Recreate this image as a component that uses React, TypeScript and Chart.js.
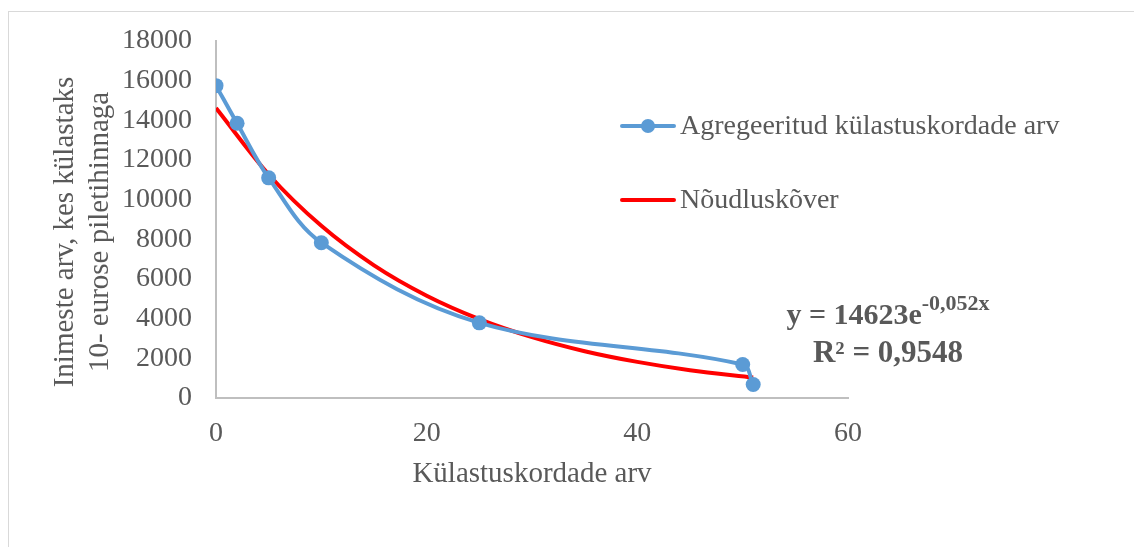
import React, { useEffect, useRef } from "react";
import { Chart, registerables } from "chart.js";

Chart.register(...registerables);

const seriesName = "Agregeeritud külastuskordade arv";
const trendName = "Nõudluskõver";
const visitsX = [0, 2, 5, 10, 25, 50, 51];
const visitsY = [15750, 13850, 11100, 7830, 3790, 1690, 680];
const trendX = [0, 5, 10, 15, 20, 25, 30, 35, 40, 45, 51];
const trendY = [14620, 11270, 8680, 6690, 5160, 3980, 3070, 2360, 1820, 1400, 1030];
const yTitle = ["Inimeste arv, kes külastaks", "10- eurose piletihinnaga"];
const xTitle = "Külastuskordade arv";
const eqMain = "y = 14623e";
const eqSup = "-0,052x";
const r2Text = "R² = 0,9548";

const FONT = "'Liberation Serif', 'Times New Roman', serif";
const TEXT = "#595959";
const BLUE = "#5B9BD5";
const RED = "#FF0000";

const overlayPlugin = {
  id: "overlay",
  afterDraw(chart: any) {
    const ctx = chart.ctx;
    ctx.save();
    // y axis title
    ctx.save();
    ctx.translate(56, 220);
    ctx.rotate(-Math.PI / 2);
    ctx.font = `29px ${FONT}`;
    ctx.fillStyle = TEXT;
    ctx.textAlign = "center";
    ctx.textBaseline = "middle";
    ctx.fillText(yTitle[0], 0, 0);
    ctx.fillText(yTitle[1], 0, 35);
    ctx.restore();
    // legend
    const lx = 613, tx = 671;
    const rows = [
      { y: 114, color: BLUE, marker: true, label: seriesName },
      { y: 188, color: RED, marker: false, label: trendName },
    ];
    ctx.font = `28px ${FONT}`;
    ctx.textBaseline = "middle";
    ctx.textAlign = "left";
    rows.forEach((r) => {
      ctx.strokeStyle = r.color;
      ctx.lineWidth = 4;
      ctx.lineCap = "round";
      ctx.beginPath();
      ctx.moveTo(lx, r.y);
      ctx.lineTo(lx + 52, r.y);
      ctx.stroke();
      if (r.marker) {
        ctx.fillStyle = r.color;
        ctx.beginPath();
        ctx.arc(lx + 26, r.y, 7, 0, Math.PI * 2);
        ctx.fill();
      }
      ctx.fillStyle = TEXT;
      ctx.fillText(r.label, tx, r.y + 1);
    });
    // equation
    const cx = 879;
    ctx.fillStyle = TEXT;
    ctx.font = `bold 30px ${FONT}`;
    const w1 = ctx.measureText(eqMain).width;
    ctx.font = `bold 22px ${FONT}`;
    const w2 = ctx.measureText(eqSup).width;
    const start = cx - (w1 + w2) / 2;
    ctx.textBaseline = "alphabetic";
    ctx.font = `bold 30px ${FONT}`;
    ctx.fillText(eqMain, start, 312);
    ctx.font = `bold 22px ${FONT}`;
    ctx.fillText(eqSup, start + w1, 298);
    ctx.font = `bold 31px ${FONT}`;
    ctx.textAlign = "center";
    ctx.fillText(r2Text, cx, 350);
    ctx.restore();
  },
};

const noPad = (s: any) => {
  s.paddingTop = 0;
  s.paddingBottom = 0;
  s.paddingLeft = 0;
  s.paddingRight = 0;
};

export default function App() {
  const ref = useRef<HTMLCanvasElement | null>(null);
  useEffect(() => {
    if (!ref.current) return;
    const chart = new Chart(ref.current, {
      type: "line",
      data: {
        datasets: [
          {
            label: seriesName,
            data: visitsX.map((x, i) => ({ x, y: visitsY[i] })),
            borderColor: BLUE,
            backgroundColor: BLUE,
            borderWidth: 4,
            pointRadius: 7.5,
            pointHoverRadius: 7.5,
            pointBackgroundColor: BLUE,
            pointBorderWidth: 0,
            tension: 0.35,
            fill: false,
          },
          {
            label: trendName,
            data: trendX.map((x, i) => ({ x, y: trendY[i] })),
            borderColor: RED,
            backgroundColor: RED,
            borderWidth: 4,
            pointRadius: 0,
            cubicInterpolationMode: "monotone",
            fill: false,
          },
        ],
      },
      options: {
        animation: false,
        responsive: false,
        maintainAspectRatio: false,
        layout: { padding: { left: 0, top: 29, right: 286, bottom: 0 } },
        plugins: { legend: { display: false }, tooltip: { enabled: false } },
        scales: {
          x: {
            type: "linear",
            min: 0,
            max: 60,
            afterFit: (s: any) => { s.height = 535 - 386; noPad(s); },
            ticks: {
              stepSize: 20,
              color: TEXT,
              font: { family: FONT, size: 28 },
              padding: 19,
              callback: (v: any) => String(v),
            },
            grid: { display: false, drawTicks: false },
            border: { display: true, color: "#BFBFBF", width: 2 },
            title: {
              display: true,
              text: xTitle,
              color: TEXT,
              font: { family: FONT, size: 29 },
              padding: { top: 0, bottom: 55 },
            },
          },
          y: {
            min: 0,
            max: 18000,
            afterFit: (s: any) => { s.width = 207; noPad(s); },
            ticks: {
              stepSize: 2000,
              color: TEXT,
              font: { family: FONT, size: 28 },
              padding: 24,
              callback: (v: any) => String(v),
            },
            grid: { display: false, drawTicks: false },
            border: { display: true, color: "#BFBFBF", width: 2 },
          },
        },
      },
      plugins: [overlayPlugin],
    });
    return () => chart.destroy();
  }, []);
  return (
    <div
      style={{
        position: "absolute",
        left: 8,
        top: 11,
        width: 1125,
        height: 535,
        borderTop: "1px solid #D9D9D9",
        borderLeft: "1px solid #D9D9D9",
        background: "#fff",
      }}
    >
      <canvas ref={ref} width={1125} height={535} style={{ display: "block" }} />
    </div>
  );
}
